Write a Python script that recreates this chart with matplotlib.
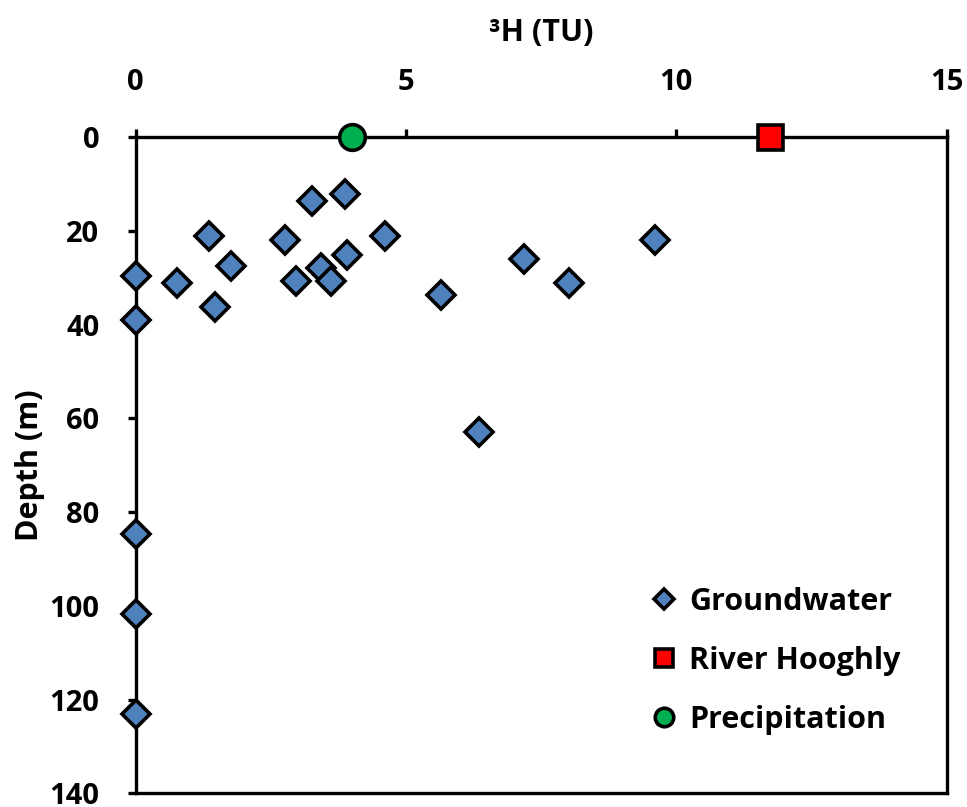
import matplotlib
matplotlib.use("Agg")
import matplotlib.pyplot as plt

# Tritium content (TU) and sampling depth (m)
gw_tritium = [3.26, 3.87, 1.36, 2.77, 4.61, 3.91, 1.77, 3.43, 3.62, 2.97, 0.77,
              0.0, 0.0, 1.47, 5.65, 7.18, 8.02, 9.60, 6.35, 0.0, 0.0, 0.0]
gw_depth = [13.6, 12.2, 21.1, 21.9, 21.1, 25.1, 27.4, 27.9, 30.7, 30.6, 31.2,
            29.7, 39.1, 36.3, 33.6, 26.0, 31.1, 22.0, 63.0, 84.6, 101.7, 123.0]

river_tritium = [11.74]
river_depth = [0.0]

rain_tritium = [4.0]
rain_depth = [0.0]

x_ticks = [0, 5, 10, 15]
y_ticks = [0, 20, 40, 60, 80, 100, 120, 140]

font = "Open Sans"
plt.rcParams["font.family"] = [font, "DejaVu Sans"]
plt.rcParams["font.weight"] = "bold"

fig = plt.figure(figsize=(9.67, 8.07), dpi=100)
ax = fig.add_axes([0.1403, 0.017, 0.979 - 0.1403, 0.8299 - 0.017])

edge = 2.6
ax.plot(gw_tritium, gw_depth, linestyle="none", marker="D", markersize=13.8,
        markerfacecolor="#4F81BD", markeredgecolor="black", markeredgewidth=edge,
        clip_on=False, zorder=4, label="Groundwater")
ax.plot(river_tritium, river_depth, linestyle="none", marker="s", markersize=18,
        markerfacecolor="#FF0000", markeredgecolor="black", markeredgewidth=edge,
        clip_on=False, zorder=4, label="River Hooghly")
ax.plot(rain_tritium, rain_depth, linestyle="none", marker="o", markersize=18.5,
        markerfacecolor="#00B050", markeredgecolor="black", markeredgewidth=edge,
        clip_on=False, zorder=4, label="Precipitation")

ax.set_xlim(0, 15)
ax.set_ylim(140, 0)
ax.set_xticks(x_ticks)
ax.set_yticks(y_ticks)
ax.xaxis.tick_top()
ax.xaxis.set_label_position("top")

for s in ax.spines.values():
    s.set_linewidth(2.4)
    s.set_color("black")

ax.tick_params(axis="both", direction="out", length=6, width=2.4,
               labelsize=21)
ax.tick_params(axis="x", pad=23)
ax.tick_params(axis="y", pad=20)
for lbl in ax.get_xticklabels() + ax.get_yticklabels():
    lbl.set_fontweight("bold")

ax.set_xlabel("³H (TU)", fontsize=22, fontweight="bold")
ax.set_ylabel("Depth (m)", fontsize=22, fontweight="bold")
ax.xaxis.set_label_coords(0.5, 1.159)
ax.xaxis.label.set_verticalalignment("center")
ax.yaxis.set_label_coords(-0.1307, 0.5)
ax.yaxis.label.set_verticalalignment("center")

leg = ax.legend(loc="lower left", bbox_to_anchor=(0.62, 0.07), frameon=False,
                markerscale=0.72, handlelength=0.9, handletextpad=0.35,
                labelspacing=0.95, borderaxespad=0,
                prop={"family": font, "weight": "bold", "size": 22})

fig.savefig("out.png", dpi=100)
